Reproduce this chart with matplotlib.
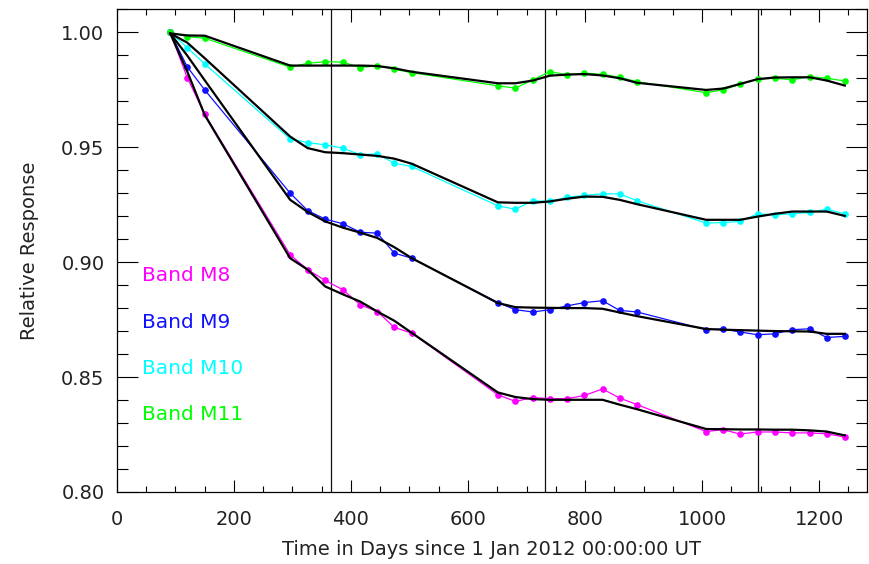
import numpy as np
import matplotlib
matplotlib.use('Agg')
import matplotlib.pyplot as plt
from matplotlib.ticker import MultipleLocator

##################################################
# data

days = [91, 120, 150, 296, 326, 356, 386, 416, 445, 474, 504,
        651, 681, 711, 740, 770, 799, 830, 859, 889,
        1007, 1036, 1065, 1095, 1124, 1154, 1184, 1213, 1244]

m8 = [1.000, 0.9803, 0.9643, 0.9032, 0.8967, 0.8920, 0.8880, 0.8814, 0.8785, 0.8716, 0.8691,
      0.8423, 0.8394, 0.8411, 0.8406, 0.8406, 0.8420, 0.8448, 0.8409, 0.8380,
      0.8263, 0.8271, 0.8252, 0.8261, 0.8261, 0.8257, 0.8257, 0.8253, 0.8239]
m9 = [1.000, 0.9850, 0.9749, 0.9300, 0.9224, 0.9187, 0.9167, 0.9130, 0.9126, 0.9039, 0.9017,
      0.8824, 0.8793, 0.8783, 0.8793, 0.8810, 0.8824, 0.8832, 0.8790, 0.8783,
      0.8706, 0.8709, 0.8696, 0.8684, 0.8688, 0.8706, 0.8710, 0.8672, 0.8677]
m10 = [1.000, 0.9933, 0.9862, 0.9536, 0.9520, 0.9510, 0.9496, 0.9467, 0.9471, 0.9430, 0.9416,
       0.9245, 0.9230, 0.9267, 0.9264, 0.9283, 0.9290, 0.9297, 0.9297, 0.9267,
       0.9170, 0.9172, 0.9177, 0.9210, 0.9206, 0.9210, 0.9216, 0.9230, 0.9210]
m11 = [1.000, 0.9981, 0.9974, 0.9848, 0.9865, 0.9872, 0.9870, 0.9846, 0.9855, 0.9839, 0.9824,
       0.9767, 0.9757, 0.9793, 0.9829, 0.9814, 0.9822, 0.9817, 0.9804, 0.9785,
       0.9737, 0.9749, 0.9774, 0.9796, 0.9800, 0.9793, 0.9807, 0.9800, 0.9788]

# smoothed fits (black)
fit_m8 = [0.9995, 0.9830, 0.9640, 0.9017, 0.8967, 0.8894, 0.8860, 0.8828, 0.8785, 0.8745, 0.8692,
          0.8433, 0.8413, 0.8404, 0.8401, 0.8401, 0.8401, 0.8401, 0.8380, 0.8360,
          0.8274, 0.8273, 0.8272, 0.8272, 0.8271, 0.8271, 0.8268, 0.8263, 0.8246]
fit_m9 = [0.9995, 0.9899, 0.9791, 0.9271, 0.9218, 0.9177, 0.9150, 0.9128, 0.9105, 0.9065, 0.9017,
          0.8822, 0.8804, 0.8802, 0.8801, 0.8800, 0.8800, 0.8797, 0.8781, 0.8765,
          0.8709, 0.8706, 0.8704, 0.8702, 0.8700, 0.8699, 0.8698, 0.8688, 0.8688]
fit_m10 = [0.9995, 0.9955, 0.9887, 0.9546, 0.9496, 0.9478, 0.9474, 0.9468, 0.9462, 0.9450, 0.9428,
           0.9260, 0.9258, 0.9258, 0.9264, 0.9276, 0.9285, 0.9284, 0.9271, 0.9252,
           0.9184, 0.9184, 0.9184, 0.9198, 0.9210, 0.9220, 0.9220, 0.9220, 0.9201]
fit_m11 = [0.9995, 0.9986, 0.9985, 0.9855, 0.9855, 0.9855, 0.9855, 0.9855, 0.9853, 0.9843, 0.9828,
           0.9778, 0.9778, 0.9790, 0.9811, 0.9816, 0.9818, 0.9812, 0.9800, 0.9780,
           0.9749, 0.9755, 0.9775, 0.9796, 0.9803, 0.9804, 0.9804, 0.9790, 0.9768]

bands = ['Band M8', 'Band M9', 'Band M10', 'Band M11']
colours = ['#ff00ff', '#1010ff', '#00ffff', '#00ff00']
year_starts = [366, 731, 1096]

##################################################
# plot

fig = plt.figure(figsize=(8.69, 5.64), dpi=100)
ax = fig.add_axes([0.1346, 0.1277, 0.8631, 0.8563])

series = [m8, m9, m10, m11]
fits = [fit_m8, fit_m9, fit_m10, fit_m11]

for xv in year_starts:
    ax.axvline(xv, color='#111111', lw=0.9, zorder=1)

for vals, col in zip(series, colours):
    ax.plot(days, vals, '-o', color=col, lw=0.9, ms=3.8, zorder=2)

for f in fits:
    ax.plot(days, f, '-', color='black', lw=1.6, zorder=3)

ypos = [0.894, 0.8737, 0.8536, 0.8337]
for lab, col, yp in zip(bands, colours, ypos):
    ax.text(42, yp, lab, color=col, fontsize=14.5, va='center', ha='left')

ax.set_xlim(0, 1282)
ax.set_ylim(0.80, 1.0101)
ax.xaxis.set_major_locator(MultipleLocator(200))
ax.xaxis.set_minor_locator(MultipleLocator(50))
ax.yaxis.set_major_locator(MultipleLocator(0.05))
ax.yaxis.set_minor_locator(MultipleLocator(0.01))
ax.yaxis.set_major_formatter(matplotlib.ticker.FormatStrFormatter('%.2f'))

ax.tick_params(which='both', direction='in', top=True, right=True,
               labelsize=14, labelcolor='#222222', width=0.8)
ax.tick_params(axis='x', which='major', length=9, pad=13)
ax.tick_params(axis='x', which='minor', length=4.5)
ax.tick_params(axis='y', which='major', length=15, pad=9)
ax.tick_params(axis='y', which='minor', length=8)
for sp in ax.spines.values():
    sp.set_linewidth(0.9)

ax.set_xlabel('Time in Days since 1 Jan 2012 00:00:00 UT', fontsize=14, color='#222222', labelpad=8)
ax.set_ylabel('Relative Response', fontsize=14, color='#222222', labelpad=16)

plt.savefig('out.png', dpi=100)
